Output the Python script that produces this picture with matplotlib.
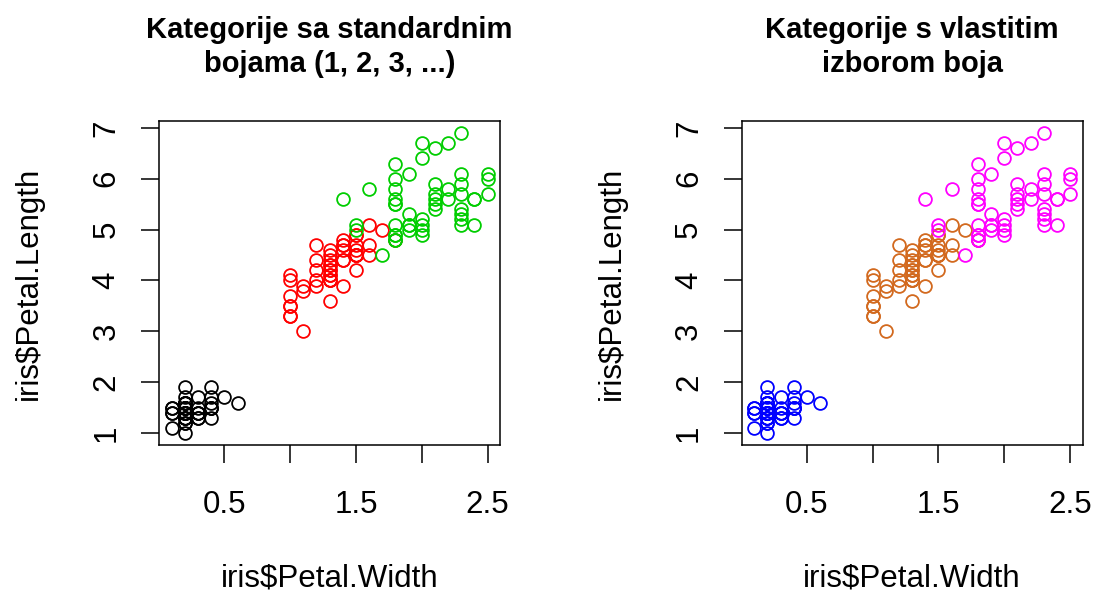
import numpy as np
import matplotlib.pyplot as plt

plt.rcParams['font.family'] = ['Liberation Sans', 'DejaVu Sans']

# iris petal measurements, per species
setosa_width = [0.2, 0.2, 0.2, 0.2, 0.2, 0.4, 0.3, 0.2, 0.2, 0.1,
                0.2, 0.2, 0.1, 0.1, 0.2, 0.4, 0.4, 0.3, 0.3, 0.3,
                0.2, 0.4, 0.2, 0.5, 0.2, 0.2, 0.4, 0.2, 0.2, 0.2,
                0.2, 0.4, 0.1, 0.2, 0.2, 0.2, 0.2, 0.1, 0.2, 0.2,
                0.3, 0.3, 0.2, 0.6, 0.4, 0.3, 0.2, 0.2, 0.2, 0.2]
setosa_length = [1.4, 1.4, 1.3, 1.5, 1.4, 1.7, 1.4, 1.5, 1.4, 1.5,
                 1.5, 1.6, 1.4, 1.1, 1.2, 1.5, 1.3, 1.4, 1.7, 1.5,
                 1.7, 1.5, 1.0, 1.7, 1.9, 1.6, 1.6, 1.5, 1.4, 1.6,
                 1.6, 1.5, 1.5, 1.4, 1.5, 1.2, 1.3, 1.4, 1.3, 1.5,
                 1.3, 1.3, 1.3, 1.6, 1.9, 1.4, 1.6, 1.4, 1.5, 1.4]
versicolor_width = [1.4, 1.5, 1.5, 1.3, 1.5, 1.3, 1.6, 1.0, 1.3, 1.4,
                    1.0, 1.5, 1.0, 1.4, 1.3, 1.4, 1.5, 1.0, 1.5, 1.1,
                    1.8, 1.3, 1.5, 1.2, 1.3, 1.4, 1.4, 1.7, 1.5, 1.0,
                    1.1, 1.0, 1.2, 1.6, 1.5, 1.6, 1.5, 1.3, 1.3, 1.3,
                    1.2, 1.4, 1.2, 1.0, 1.3, 1.2, 1.3, 1.3, 1.1, 1.3]
versicolor_length = [4.7, 4.5, 4.9, 4.0, 4.6, 4.5, 4.7, 3.3, 4.6, 3.9,
                     3.5, 4.2, 4.0, 4.7, 3.6, 4.4, 4.5, 4.1, 4.5, 3.9,
                     4.8, 4.0, 4.9, 4.7, 4.3, 4.4, 4.8, 5.0, 4.5, 3.5,
                     3.8, 3.7, 3.9, 5.1, 4.5, 4.5, 4.7, 4.4, 4.1, 4.0,
                     4.4, 4.6, 4.0, 3.3, 4.2, 4.2, 4.2, 4.3, 3.0, 4.1]
virginica_width = [2.5, 1.9, 2.1, 1.8, 2.2, 2.1, 1.7, 1.8, 1.8, 2.5,
                   2.0, 1.9, 2.1, 2.0, 2.4, 2.3, 1.8, 2.2, 2.3, 1.5,
                   2.3, 2.0, 2.0, 1.8, 2.1, 1.8, 1.8, 1.8, 2.1, 1.6,
                   1.9, 2.0, 2.2, 1.5, 1.4, 2.3, 2.4, 1.8, 1.8, 2.1,
                   2.4, 2.3, 1.9, 2.3, 2.5, 2.3, 1.9, 2.0, 2.3, 1.8]
virginica_length = [6.0, 5.1, 5.9, 5.6, 5.8, 6.6, 4.5, 6.3, 5.8, 6.1,
                    5.1, 5.3, 5.5, 5.0, 5.1, 5.3, 5.5, 6.7, 6.9, 5.0,
                    5.7, 4.9, 6.7, 4.9, 5.7, 6.0, 4.8, 4.9, 5.6, 5.8,
                    6.1, 6.4, 5.6, 5.1, 5.6, 6.1, 5.6, 5.5, 4.8, 5.4,
                    5.6, 5.1, 5.1, 5.9, 5.7, 5.2, 5.0, 5.2, 5.4, 5.1]

x_ticks = [0.5, 1.0, 1.5, 2.0, 2.5]
x_ticklabels = ["0.5", "", "1.5", "", "2.5"]
y_ticks = [1, 2, 3, 4, 5, 6, 7]

titles = ["Kategorije sa standardnim\nbojama (1, 2, 3, ...)",
          "Kategorije s vlastitim\nizborom boja"]
default_colors = ["black", "#FF0000", "#00CD00"]
own_colors = ["#0000FF", "#D2691E", "#FF00FF"]


def r_style_scatter(ax, colors, title):
    groups = [(setosa_width, setosa_length),
              (versicolor_width, versicolor_length),
              (virginica_width, virginica_length)]
    for (w, l), c in zip(groups, colors):
        ax.plot(w, l, 'o', mfc='none', mec=c, ms=9.2, mew=1.3)
    ax.set_xlim(0.004, 2.596)
    ax.set_ylim(0.764, 7.136)
    ax.set_xticks(x_ticks)
    ax.set_xticklabels(x_ticklabels)
    ax.set_yticks(y_ticks)
    ax.set_yticklabels([str(v) for v in y_ticks], rotation=90, va='center')
    ax.tick_params(direction='out', length=13, width=1.1, labelsize=22.5,
                   colors='black')
    ax.tick_params(axis='x', pad=19)
    ax.tick_params(axis='y', pad=14)
    for s in ax.spines.values():
        s.set_linewidth(1.1)
    ax.set_xlabel("iris$Petal.Width", fontsize=22.5, labelpad=32)
    ax.set_ylabel("iris$Petal.Length", fontsize=22.5, labelpad=34)
    ax.set_title(title, fontsize=21, fontweight='bold', pad=35,
                 linespacing=1.3)


def main():
    fig = plt.figure(figsize=(10.97, 5.99), dpi=100)
    ax1 = fig.add_axes([0.145, 0.257, 0.311, 0.541])
    ax2 = fig.add_axes([0.676, 0.257, 0.311, 0.541])
    r_style_scatter(ax1, default_colors, titles[0])
    r_style_scatter(ax2, own_colors, titles[1])
    fig.savefig("out.png", dpi=100)


if __name__ == "__main__":
    main()
